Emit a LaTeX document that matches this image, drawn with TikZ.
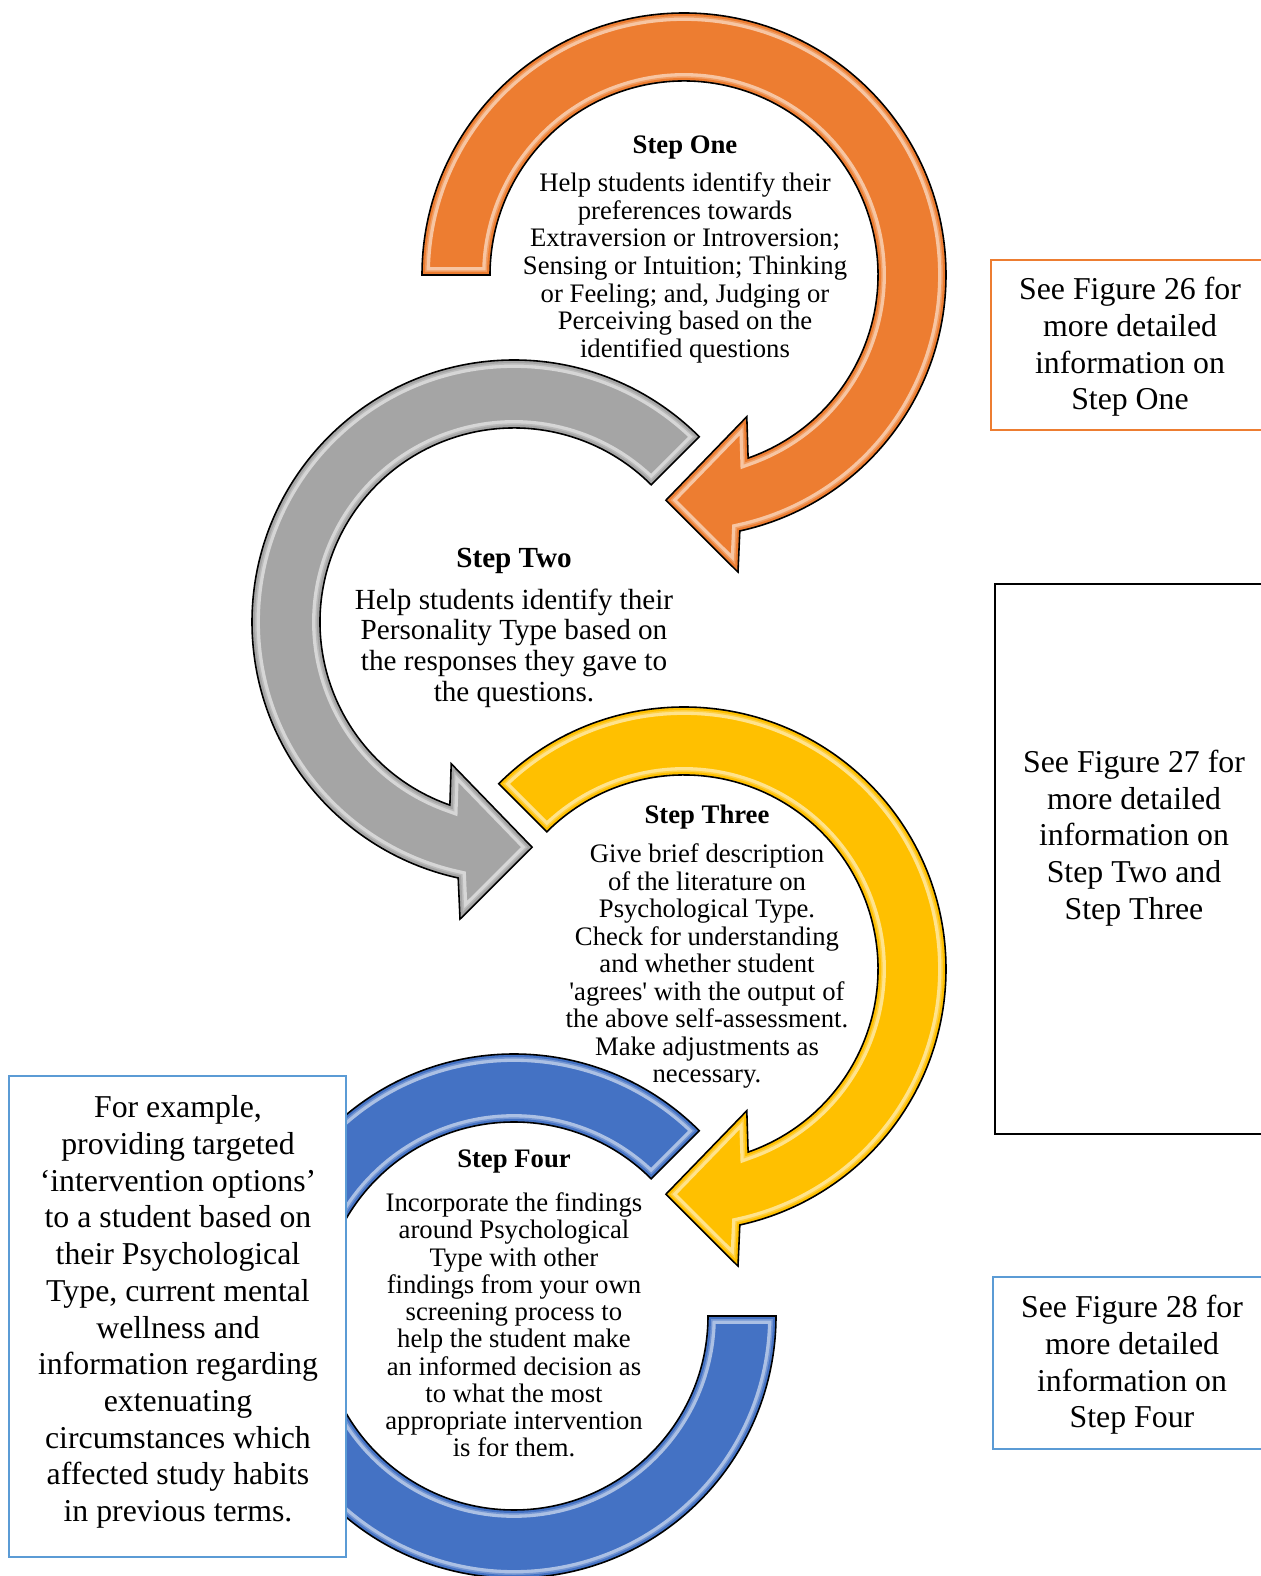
\documentclass[tikz,border=0pt]{standalone}
\usepackage{fontspec}
\setmainfont{Liberation Serif}[Ligatures=TeXOff]
\definecolor{stepone}{HTML}{ED7D31}
\definecolor{steptwo}{HTML}{A5A5A5}
\definecolor{stepthree}{HTML}{FFC000}
\definecolor{stepfour}{HTML}{4472C4}
\definecolor{boxblue}{HTML}{5B9BD5}

% A filled band with a bevel-like light line just inside its outline
\newcommand\glossyarrow[2]{%
  \begin{scope}
    \clip #2;
    \fill[#1] #2;
    \draw[line width=9pt, #1!45!white] #2;
    \draw[line width=5.2pt, #1!75!white] #2;
    \draw[line width=3.4pt, #1] #2;
  \end{scope}
  \draw[line width=0.9pt, line join=miter] #2;
}
% Circular arrow running clockwise from a start angle, ending in a head
\newcommand\headarrow[2]{%
  \glossyarrow{#1}{(#2:262) arc[start angle=#2, end angle=-77.7, radius=262]
    -- (-79.7:302) -- (-94.6:226) -- (-66.1:155) -- (-70.7:194)
    arc[start angle=-70.7, end angle=#2, radius=194] -- cycle}}

\tikzset{
  title/.style={font=\bfseries\fontsize{15.2}{15.7}\selectfont, inner sep=0pt},
  body/.style={align=center, inner sep=0pt},
  boxtext/.style={align=center, inner sep=0pt, font=\fontsize{18.1}{20.9}\selectfont},
  frame/.style={line width=1.4pt}
}

\begin{document}
\begin{tikzpicture}[x=0.02cm, y=0.02cm]
  \useasboundingbox (0,0) rectangle (1261,1576);
  \fill[white] (0,0) rectangle (1261,1576);
  \clip (0,0) rectangle (1261,1576);

  % the four circular arrows
  \begin{scope}[shift={(684,1301)}]
    \headarrow{stepone}{180}
  \end{scope}
  \begin{scope}[shift={(514,954)}, xscale=-1]
    \headarrow{steptwo}{135}
  \end{scope}
  \begin{scope}[shift={(684,607)}]
    \headarrow{stepthree}{135}
  \end{scope}
  \begin{scope}[shift={(514,260)}, xscale=-1]
    \glossyarrow{stepfour}{(135:262) arc[start angle=135, end angle=-180, radius=262]
      -- (-180:194) arc[start angle=-180, end angle=135, radius=194] -- cycle}
  \end{scope}

  % step texts
  \node[title] (t1) at (685,1428) {Step One};
  \node[body, font=\fontsize{15.2}{15.7}\selectfont] (b1) at (685,1308)
    {Help students identify their\\ preferences towards\\ Extraversion or Introversion;\\
     Sensing or Intuition; Thinking\\ or Feeling; and, Judging or\\
     Perceiving based on the\\ identified questions};

  \node[title, font=\bfseries\fontsize{16.6}{17.5}\selectfont] (t2) at (514,1015) {Step Two};
  \node[body, font=\fontsize{16.6}{17.5}\selectfont] (b2) at (514,928)
    {Help students identify their\\ Personality Type based on\\
     the responses they gave to\\ the questions.};

  \node[title] (t3) at (707,759) {Step Three};
  \node[body, font=\fontsize{15.2}{15.65}\selectfont] (b3) at (707,610)
    {Give brief description\\ of the literature on\\ Psychological Type.\\
     Check for understanding\\ and whether student\\
     'agrees' with the output of\\ the above self-assessment.\\
     Make adjustments as\\ necessary.};

  \node[title] (t4) at (514,414) {Step Four};
  \node[body, font=\fontsize{15.2}{15.5}\selectfont] (b4) at (514,251)
    {Incorporate the findings\\ around Psychological\\ Type with other\\
     findings from your own\\ screening process to\\ help the student make\\
     an informed decision as\\ to what the most\\ appropriate intervention\\
     is for them.};

  % side boxes
  \draw[frame, draw=stepone] (991,1316) rectangle (1280,1146);
  \node[boxtext] (n1) at (1130,1229)
    {See Figure 26 for\\ more detailed\\ information on\\ Step One};

  \draw[frame, draw=black] (995,992) rectangle (1280,442);
  \node[boxtext] (n2) at (1134,738)
    {See Figure 27 for\\ more detailed\\ information on\\ Step Two and\\ Step Three};

  \draw[frame, draw=boxblue] (993,299) rectangle (1280,127);
  \node[boxtext] (n3) at (1132,211)
    {See Figure 28 for\\ more detailed\\ information on\\ Step Four};

  \filldraw[frame, draw=boxblue, fill=white] (9,500) rectangle (346,19);
  \node[boxtext] (ex) at (178,264)
    {For example,\\ providing targeted\\ ‘intervention options’\\
     to a student based on\\ their Psychological\\ Type, current mental\\
     wellness and\\ information regarding\\ extenuating\\
     circumstances which\\ affected study habits\\ in previous terms.};
\end{tikzpicture}
\end{document}
